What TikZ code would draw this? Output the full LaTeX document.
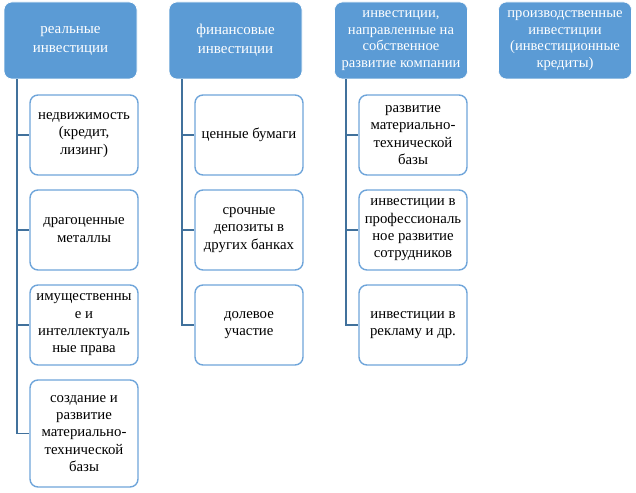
\documentclass[tikz,border=0pt]{standalone}
\usepackage{fontspec}
\setmainfont{Liberation Serif}
\begin{document}
\begin{tikzpicture}[x=1pt,y=-1pt,
  head/.style={draw=white,line width=0.6pt,fill=hblue,rounded corners=8pt,text=white,align=center,
     minimum width=133pt,minimum height=77pt,inner sep=2pt,font=\fontsize{15}{19}\selectfont},
  headsmall/.style={head,font=\fontsize{14.6}{16.7}\selectfont},
  child/.style={draw=cblue,line width=1.4pt,fill=white,rounded corners=8pt,text=black,align=center,
     minimum width=108pt,minimum height=80pt,inner sep=1pt,font=\fontsize{14.8}{17.3}\selectfont},
  conn/.style={draw=lblue,line width=1.8pt}]
\definecolor{hblue}{HTML}{5B9BD5}
\definecolor{cblue}{HTML}{6FA5DA}
\definecolor{lblue}{HTML}{41719C}
\useasboundingbox (0,0) rectangle (636,492);
% headers
\node[head] (h1) at (70.5,40.5) {реальные\\инвестиции};
\node[head] (h2) at (235.5,40.5) {финансовые\\инвестиции};
\node[headsmall] (h3) at (401,40.5) {инвестиции,\\направленные на\\собственное\\развитие компании};
\node[headsmall] (h4) at (565,40.5) {производственные\\инвестиции\\(инвестиционные\\кредиты)};
% column 1
\node[child] (c11) at (84,135) {недвижимость\\(кредит,\\лизинг)};
\node[child] (c12) at (84,230) {драгоценные\\металлы};
\node[child] (c13) at (84,325) {имущественны\\е и\\интеллектуаль\\ные права};
\node[child,minimum height=107pt] (c14) at (84,433.5) {создание и\\развитие\\материально-\\технической\\базы};
% column 2
\node[child] (c21) at (249,135) {ценные бумаги};
\node[child] (c22) at (249,230) {срочные\\депозиты в\\других банках};
\node[child] (c23) at (249,325) {долевое\\участие};
% column 3
\node[child] (c31) at (413,135) {развитие\\материально-\\технической\\базы};
\node[child] (c32) at (413,230) {инвестиции в\\профессиональ\\ное развитие\\сотрудников};
\node[child] (c33) at (413,325) {инвестиции в\\рекламу и др.};
% connectors
\coordinate (t1) at ([xshift=13pt]h1.south west);
\coordinate (t2) at ([xshift=13pt]h2.south west);
\coordinate (t3) at ([xshift=12pt]h3.south west);
\foreach \c in {c11,c12,c13,c14} \draw[conn] (t1) |- (\c.west);
\foreach \c in {c21,c22,c23} \draw[conn] (t2) |- (\c.west);
\foreach \c in {c31,c32,c33} \draw[conn] (t3) |- (\c.west);
\end{tikzpicture}
\end{document}
